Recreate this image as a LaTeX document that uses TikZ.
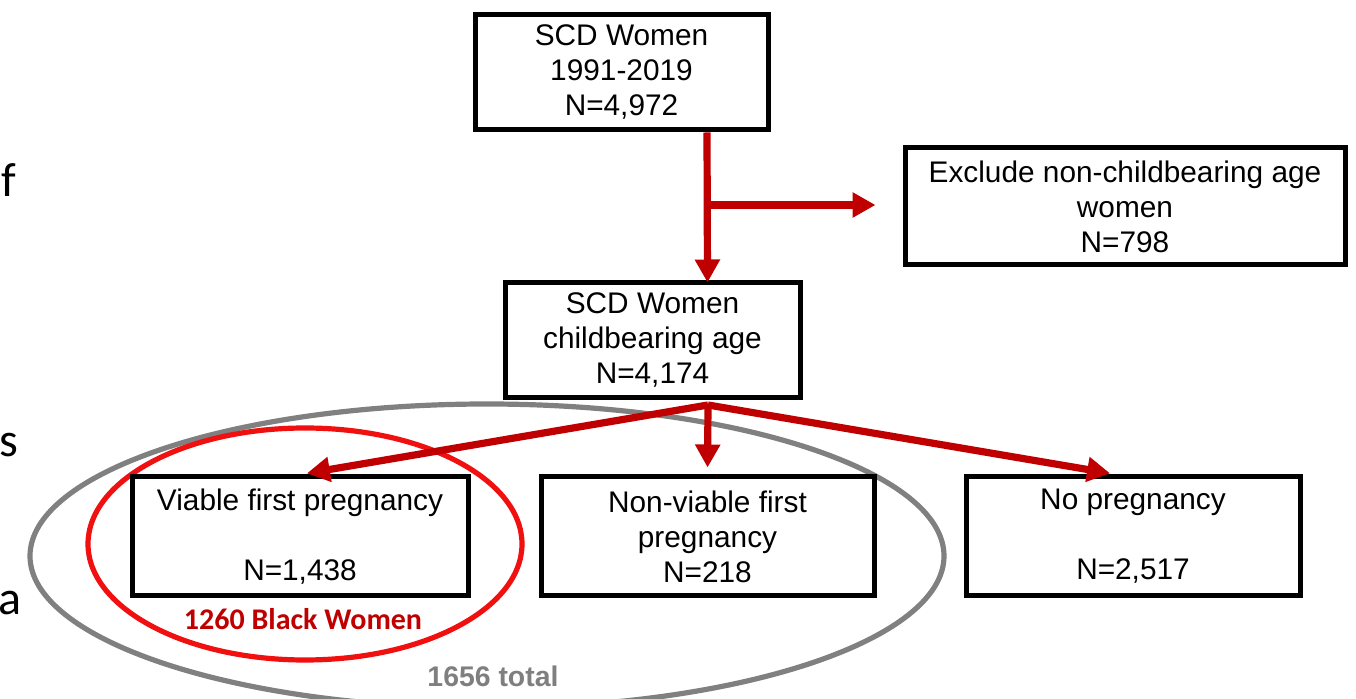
\documentclass[tikz,border=0pt]{standalone}
\usepackage{fontspec}
\setmainfont{Liberation Sans}
\newfontfamily\calibrifont{Carlito}
\usetikzlibrary{arrows.meta,calc,positioning}
\definecolor{flowred}{RGB}{192,0,0}
\definecolor{ringred}{RGB}{240,16,16}
\definecolor{ringgray}{RGB}{128,128,128}
\definecolor{labelgray}{RGB}{127,127,127}

\begin{document}
\begin{tikzpicture}[x=0.5pt,y=-0.5pt,
    every node/.style={align=center,font=\fontsize{14.9}{17.5}\selectfont},
    box/.style={draw,line width=2.5pt,inner sep=0pt},
    flow/.style={draw=flowred,line width=3.6pt,-{Triangle[width=12pt,length=11.5pt]}},
    side/.style={font=\calibrifont\fontsize{24}{28}\selectfont,anchor=base west,inner sep=0pt}]
    \useasboundingbox (0,0) rectangle (1356,699);
    % groupings behind the boxes
    \draw[ringgray,line width=2.6pt] (487,556) ellipse [x radius=228.5pt,y radius=76pt];
    \draw[ringred,line width=2.6pt] (305,544) ellipse [x radius=108.5pt,y radius=58pt];
    % boxes
    \node[box,minimum width=146.5pt,minimum height=57.5pt] (top) at (621.5,72.5) {SCD Women\\1991-2019\\N=4,972};
    \node[box,minimum width=220pt,minimum height=58.5pt] (excl) at (1125,206.5) {Exclude non-childbearing age\\women\\N=798};
    \node[box,minimum width=147.5pt,minimum height=57.5pt] (adult) at (652.5,340.5) {SCD Women\\childbearing age\\N=4,174};
    \node[box,minimum width=168pt,minimum height=59.5pt] (viable) at (300,536.5) {Viable first pregnancy\\\\N=1,438};
    \node[box,minimum width=166.5pt,minimum height=59.5pt] (nonviable) at (707.5,536.5) {Non-viable first\\pregnancy\\N=218};
    \node[box,minimum width=167pt,minimum height=59.5pt] (nopreg) at (1133,536.5) {No pregnancy\\\\N=2,517};
    % labels
    \node[font=\calibrifont\bfseries\fontsize{15}{18}\selectfont,text=flowred] (black) at (303,619) {1260 Black Women};
    \node[font=\bfseries\fontsize{14.2}{17}\selectfont,text=labelgray] (total) at (493,676) {1656 total};
    \node[side] (cutf) at (1,197) {f};
    \node[side] (cuts) at (-1,457) {s};
    \node[side] (cuta) at (-2,615) {a};
    % connectors
    \coordinate (split) at (707,205);
    \coordinate (fork) at (708,405);
    \draw[flow] ([xshift=42.75pt]top.south) -- ([xshift=27.5pt,yshift=-1pt]adult.north);
    \draw[flow,shorten >=13.5pt] (split) -- (split -| excl.west);
    \draw[flow,shorten >=3.5pt] (fork) -- (viable.north);
    \draw[flow,shorten >=3.5pt] (fork) -- (nonviable.north);
    \draw[flow,shorten >=3.5pt] (fork) -- ([xshift=-8pt]nopreg.north);
\end{tikzpicture}
\end{document}
